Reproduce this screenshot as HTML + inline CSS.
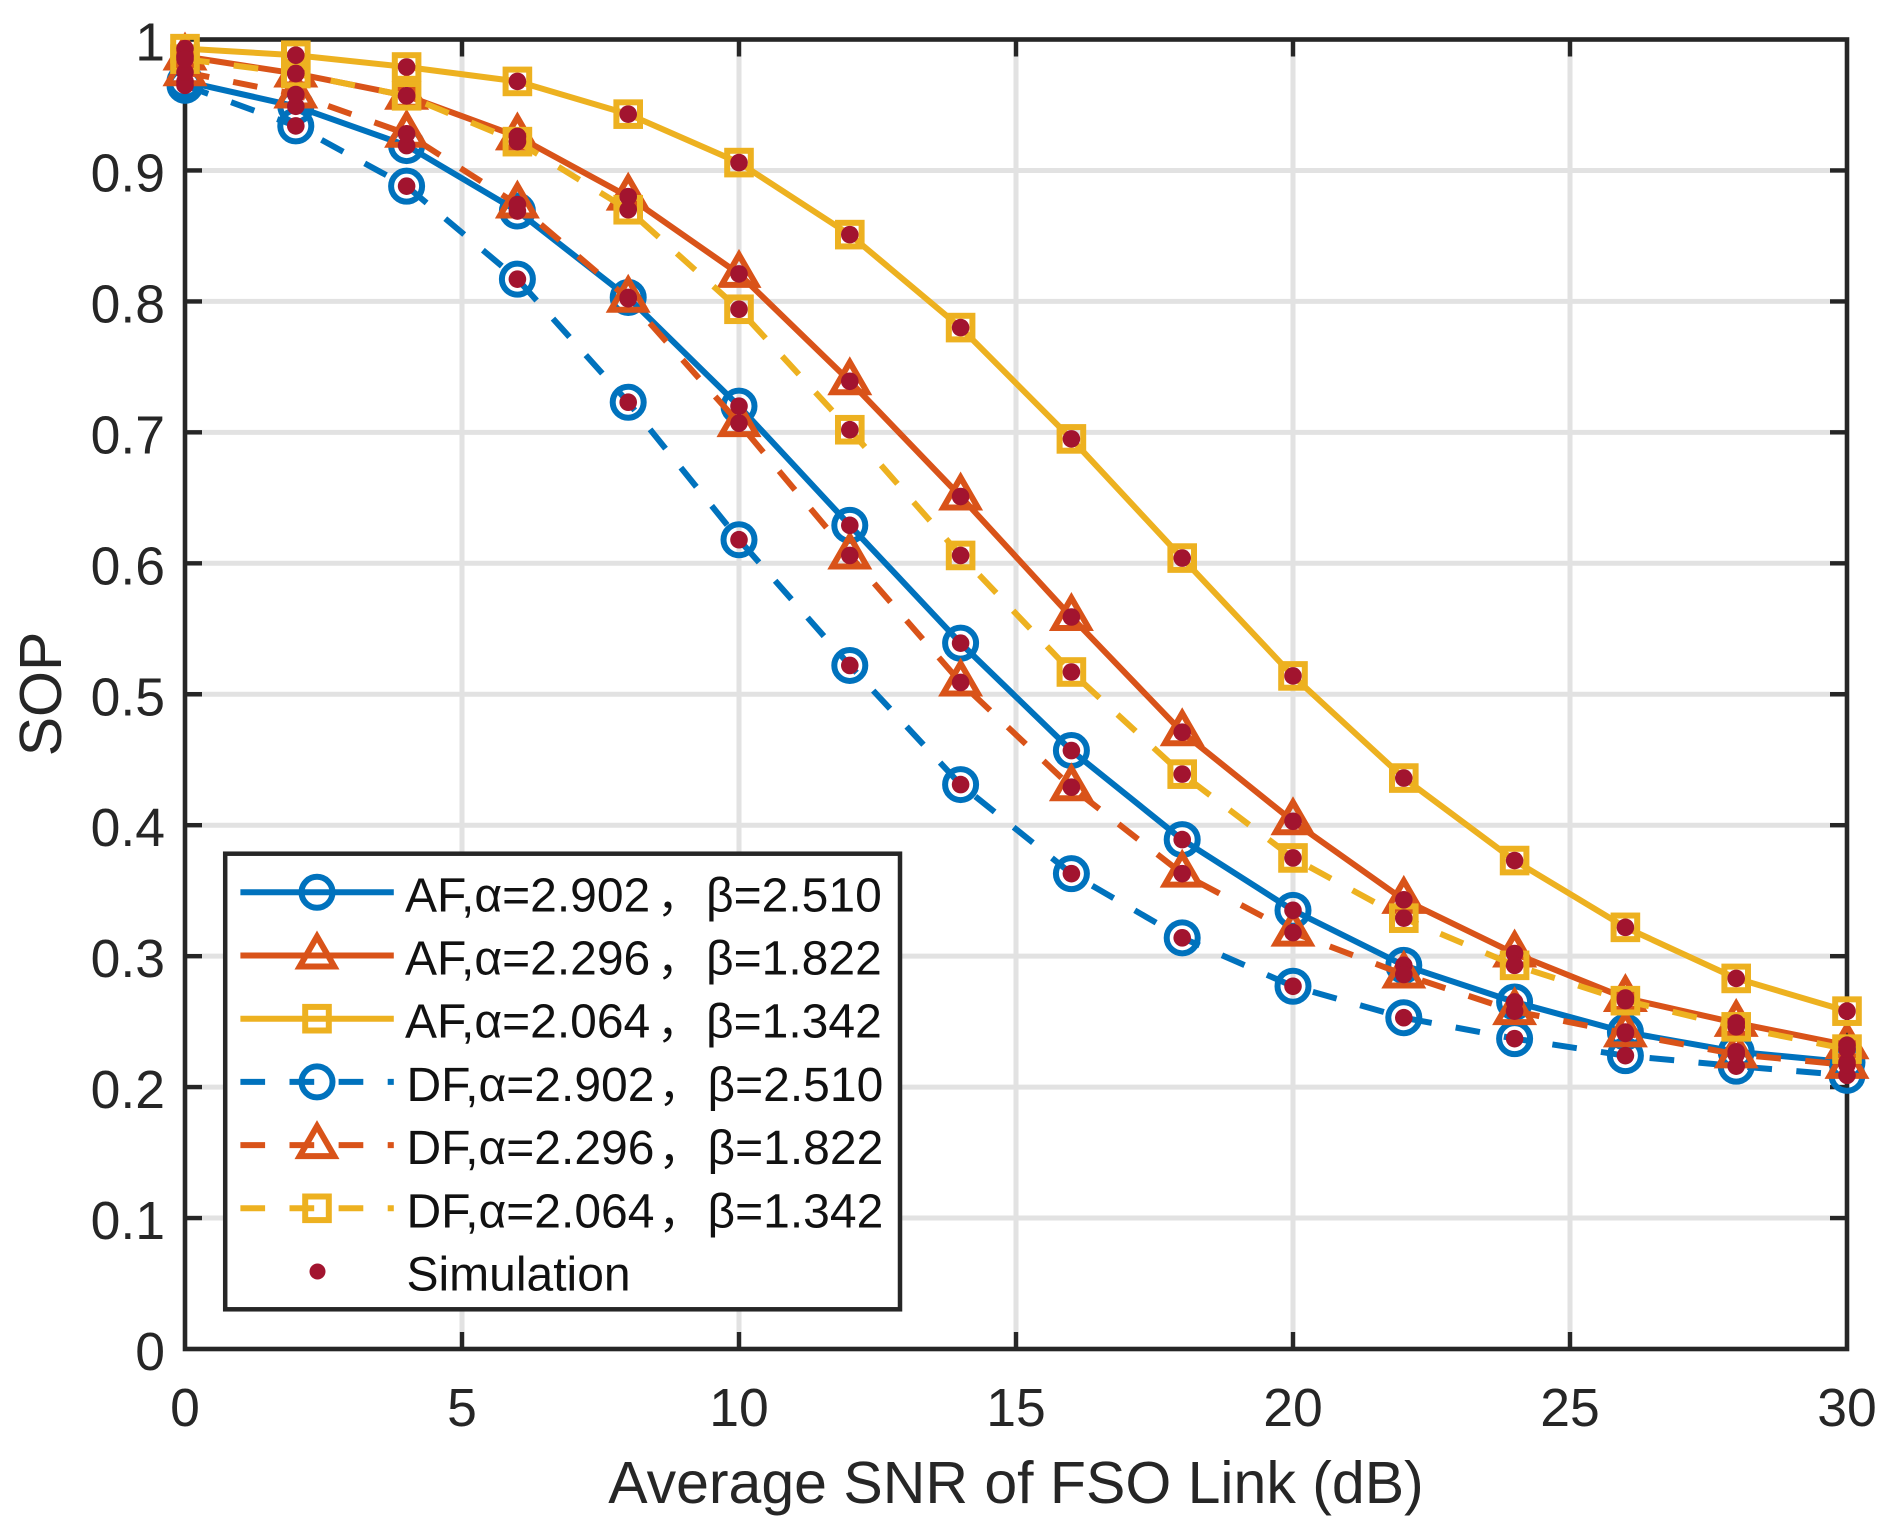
<!DOCTYPE html>
<html lang="en">
<head>
<meta charset="utf-8">
<title>SOP versus Average SNR of FSO Link</title>
<style>
  html, body { margin: 0; padding: 0; background: #fff; }
  svg { display: block; font-family: "Liberation Sans", "Noto Sans CJK SC", sans-serif; }
</style>
</head>
<body>
<svg id="chart" xmlns="http://www.w3.org/2000/svg" width="1892" height="1533" viewBox="0 0 1892 1533">
  <rect x="0" y="0" width="1892" height="1533" fill="#ffffff"/>
  <g id="grid"></g>
  <g id="axes"></g>
  <text x="1016" y="1503" font-size="59" fill="#262626" text-anchor="middle">Average SNR of FSO Link (dB)</text>
  <text transform="translate(61,694) rotate(-90)" font-size="59" fill="#262626" text-anchor="middle">SOP</text>
  <g id="series"></g>
  <g id="legend"></g>
</svg>
<script>
// Chart data
const snrDb = [0, 2, 4, 6, 8, 10, 12, 14, 16, 18, 20, 22, 24, 26, 28, 30];
const afBlue   = [0.968, 0.949, 0.919, 0.869, 0.803, 0.720, 0.629, 0.539, 0.457, 0.389, 0.335, 0.293, 0.265, 0.242, 0.227, 0.219];
const afOrange = [0.987, 0.974, 0.957, 0.926, 0.880, 0.821, 0.739, 0.651, 0.559, 0.471, 0.403, 0.343, 0.302, 0.268, 0.249, 0.232];
const afYellow = [0.993, 0.988, 0.979, 0.968, 0.943, 0.906, 0.851, 0.780, 0.695, 0.604, 0.514, 0.436, 0.373, 0.322, 0.283, 0.258];
const dfBlue   = [0.965, 0.934, 0.888, 0.817, 0.723, 0.618, 0.522, 0.431, 0.363, 0.314, 0.277, 0.253, 0.237, 0.224, 0.216, 0.209];
const dfOrange = [0.975, 0.958, 0.928, 0.874, 0.802, 0.707, 0.606, 0.509, 0.429, 0.363, 0.318, 0.286, 0.258, 0.241, 0.225, 0.217];
const dfYellow = [0.985, 0.974, 0.957, 0.922, 0.870, 0.794, 0.702, 0.606, 0.517, 0.439, 0.375, 0.329, 0.293, 0.266, 0.246, 0.229];
const xTicks = [0, 5, 10, 15, 20, 25, 30];
const yTicks = [0, 0.1, 0.2, 0.3, 0.4, 0.5, 0.6, 0.7, 0.8, 0.9, 1];
const yTickLabels = ['0', '0.1', '0.2', '0.3', '0.4', '0.5', '0.6', '0.7', '0.8', '0.9', '1'];

const NS = 'http://www.w3.org/2000/svg';
const plot = { left: 185, right: 1847, top: 39.5, bottom: 1349 };
const xScale = v => plot.left + (v - 0) / 30 * (plot.right - plot.left);
const yScale = v => plot.bottom - v * (plot.bottom - plot.top);
const BLUE = '#0072BD', ORANGE = '#D95319', YELLOW = '#EDB120', DOT = '#A2142F', INK = '#262626';

function make(tag, attrs, parent) {
  const el = document.createElementNS(NS, tag);
  for (const k in attrs) el.setAttribute(k, attrs[k]);
  parent.appendChild(el);
  return el;
}

function drawMarker(kind, cx, cy, color, parent) {
  let el;
  if (kind === 'circle') {
    el = make('circle', { cx: cx, cy: cy, r: 15.5, fill: 'none', stroke: color, 'stroke-width': 6 }, parent);
  } else if (kind === 'triangle') {
    const pts = [[cx, cy - 19], [cx + 17.3, cy + 11], [cx - 17.3, cy + 11]].map(p => p.join(',')).join(' ');
    el = make('polygon', { points: pts, fill: 'none', stroke: color, 'stroke-width': 6, 'stroke-miterlimit': 10 }, parent);
  } else {
    el = make('rect', { x: cx - 11.8, y: cy - 11.8, width: 23.6, height: 23.6, fill: 'none', stroke: color, 'stroke-width': 6 }, parent);
  }
  return el;
}

// Grid and axes
const gridG = document.getElementById('grid');
const axesG = document.getElementById('axes');
xTicks.forEach(t => {
  const x = xScale(t);
  if (t !== 0 && t !== 30) {
    const g = make('line', { x1: x, x2: x, y1: plot.top, y2: plot.bottom, stroke: '#e2e2e2', 'stroke-width': 5 }, gridG);
    
    
    const t1 = make('line', { x1: x, x2: x, y1: plot.bottom, y2: plot.bottom - 17, stroke: INK, 'stroke-width': 4.4 }, axesG);
    
    
    const t2 = make('line', { x1: x, x2: x, y1: plot.top, y2: plot.top + 17, stroke: INK, 'stroke-width': 4.4 }, axesG);
    
    
  }
  const lab = make('text', { x: x, y: 1426, 'font-size': 53.5, fill: INK, 'text-anchor': 'middle' }, axesG);
  
  
  lab.textContent = String(t);
});
yTicks.forEach((t, i) => {
  const y = yScale(t);
  if (t !== 0 && t !== 1) {
    const g = make('line', { x1: plot.left, x2: plot.right, y1: y, y2: y, stroke: '#e2e2e2', 'stroke-width': 5 }, gridG);
    
    
    const t1 = make('line', { x1: plot.left, x2: plot.left + 17, y1: y, y2: y, stroke: INK, 'stroke-width': 4.4 }, axesG);
    
    
    const t2 = make('line', { x1: plot.right, x2: plot.right - 17, y1: y, y2: y, stroke: INK, 'stroke-width': 4.4 }, axesG);
    
    
  }
  const lab = make('text', { x: 165, y: y + 21, 'font-size': 53.5, fill: INK, 'text-anchor': 'end' }, axesG);
  
  
  lab.textContent = yTickLabels[i];
});
const box = make('rect', { x: plot.left, y: plot.top, width: plot.right - plot.left, height: plot.bottom - plot.top, fill: 'none', stroke: INK, 'stroke-width': 4.6 }, axesG);



// Series
const seriesDefs = [
  { id: 'af-2902', values: afBlue,   color: BLUE,   marker: 'circle',   dashed: false, label: 'AF,α=2.902' , beta: 'β=2.510' },
  { id: 'af-2296', values: afOrange, color: ORANGE, marker: 'triangle', dashed: false, label: 'AF,α=2.296' , beta: 'β=1.822' },
  { id: 'af-2064', values: afYellow, color: YELLOW, marker: 'square',   dashed: false, label: 'AF,α=2.064' , beta: 'β=1.342' },
  { id: 'df-2902', values: dfBlue,   color: BLUE,   marker: 'circle',   dashed: true,  label: 'DF,α=2.902' , beta: 'β=2.510' },
  { id: 'df-2296', values: dfOrange, color: ORANGE, marker: 'triangle', dashed: true,  label: 'DF,α=2.296' , beta: 'β=1.822' },
  { id: 'df-2064', values: dfYellow, color: YELLOW, marker: 'square',   dashed: true,  label: 'DF,α=2.064' , beta: 'β=1.342' }
];
const DASH = '24.7 24.4';
const seriesG = document.getElementById('series');
seriesDefs.forEach(s => {
  const g = make('g', {}, seriesG);
  
  
  const pts = s.values.map((v, i) => xScale(snrDb[i]) + ',' + yScale(v)).join(' ');
  const attrs = { points: pts, fill: 'none', stroke: s.color, 'stroke-width': 6, 'stroke-linejoin': 'round' };
  if (s.dashed) attrs['stroke-dasharray'] = DASH;
  const line = make('polyline', attrs, g);
  
  
  s.values.forEach((v, i) => {
    const m = drawMarker(s.marker, xScale(snrDb[i]), yScale(v), s.color, g);
    
    
  });
});
const dotsG = make('g', {}, seriesG);


seriesDefs.forEach(s => {
  s.values.forEach((v, i) => {
    const d = make('circle', { cx: xScale(snrDb[i]), cy: yScale(v), r: 8.8, fill: DOT }, dotsG);
    
    
  });
});

// Legend
const legendG = document.getElementById('legend');
const legendBox = make('rect', { x: 225.2, y: 853.7, width: 674.8, height: 455.6, fill: '#ffffff', stroke: '#262626', 'stroke-width': 4.5 }, legendG);


const LEG_ROW0 = 892.3, LEG_STEP = 63.2;
seriesDefs.forEach((s, i) => {
  const y = LEG_ROW0 + i * LEG_STEP;
  const g = make('g', {}, legendG);
  
  
  const attrs = { x1: 240.4, x2: 393.8, y1: y, y2: y, stroke: s.color, 'stroke-width': 6 };
  if (s.dashed) attrs['stroke-dasharray'] = DASH;
  const ln = make('line', attrs, g);
  
  
  const mk = drawMarker(s.marker, 317, y, s.color, g);
  
  
  const base = y + 19;
  const tx = s.dashed ? 406.5 : 405;
  const t1 = make('text', { x: tx, y: base, 'font-size': 48, fill: '#111' }, g);
  
  
  t1.textContent = s.label;
  const t2 = make('text', { x: tx + 252, y: base, 'font-size': 44, fill: '#111' }, g);
  
  
  t2.textContent = '，';
  const t3 = make('text', { x: tx + 301, y: base, 'font-size': 48, fill: '#111' }, g);
  
  
  t3.textContent = s.beta;
});
const simY = LEG_ROW0 + 6 * LEG_STEP;
const simDot = make('circle', { cx: 317.5, cy: simY, r: 8, fill: DOT }, legendG);


const simText = make('text', { x: 406.5, y: simY + 19, 'font-size': 48, fill: '#111' }, legendG);


simText.textContent = 'Simulation';
</script>
</body>
</html>
